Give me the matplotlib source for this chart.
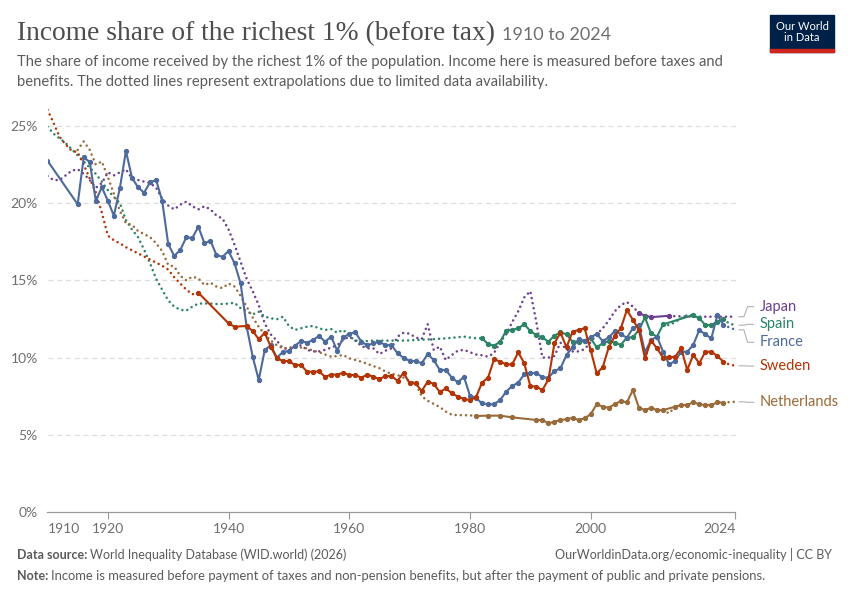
import matplotlib
matplotlib.use("Agg")
import matplotlib.pyplot as plt
from matplotlib.patches import Rectangle

plt.rcParams['font.family'] = ['Lato', 'DejaVu Sans']

# ---- data ----
france_years = [1910] + list(range(1915, 2023))
france_vals = [22.75, 19.93, 22.97, 22.67, 20.16, 21.03, 20.16, 19.19, 21.0, 23.38,
               21.65, 21.03, 20.68, 21.35, 21.5, 20.16, 17.36, 16.58, 16.97, 17.79,
               17.75, 18.48, 17.4, 17.57, 16.64, 16.53, 16.9, 16.1, 14.8, 12.0,
               10.06, 8.55, 10.49, 10.8, 9.99, 10.36, 10.43, 10.77, 11.07, 10.97,
               11.14, 11.4, 11.03, 11.36, 10.45, 11.31, 11.53, 11.64, 11.03, 10.8,
               10.92, 11.03, 10.8, 10.8, 10.28, 9.99, 9.78, 9.78, 9.63, 10.23,
               9.84, 9.2, 9.2, 8.7, 8.4, 8.76, 7.53, 7.38, 7.04, 6.98,
               6.98, 7.25, 7.79, 8.16, 8.38, 8.92, 8.98, 9.02, 8.72, 8.7,
               9.13, 9.31, 10.17, 10.67, 11.18, 11.1, 11.31, 11.53, 11.07, 11.31,
               11.72, 11.51, 11.29, 11.9, 12.08, 10.35, 11.14, 11.36, 10.38, 9.56,
               9.78, 10.38, 10.38, 10.82, 11.79, 11.5, 11.25, 12.76, 12.11]
france_ext_years = [2022, 2023, 2024]
france_ext_vals = [12.11, 11.95, 11.8]

sweden_years = [1935, 1940, 1941] + list(range(1943, 2023))
sweden_vals = [14.2, 12.22, 12.0, 12.05, 11.72, 11.2, 11.6, 10.7, 9.95, 9.78,
               9.78, 9.52, 9.52, 9.09, 9.09, 9.1, 8.76, 8.9, 8.9, 9.02,
               8.87, 8.87, 8.7, 8.9, 8.76, 8.61, 8.8, 8.8, 8.5, 9.02,
               8.33, 8.33, 7.84, 8.44, 8.3, 7.77, 8.0, 7.69, 7.47, 7.33,
               7.25, 7.43, 8.38, 8.7, 9.89, 9.74, 9.56, 9.56, 10.34, 9.63,
               8.16, 8.12, 7.9, 8.59, 10.93, 11.61, 10.67, 11.68, 11.79, 11.9,
               10.49, 8.98, 9.37, 10.67, 11.4, 11.9, 13.08, 12.45, 11.79, 9.95,
               11.1, 10.6, 9.99, 10.02, 10.06, 10.6, 9.2, 10.17, 9.63, 10.38,
               10.38, 10.1, 9.73]
sweden_ext_years = list(range(1910, 1936)) + [2022, 2023, 2024]
sweden_ext_vals = [26.05, 25.2, 24.3, 23.8, 23.4, 23.3, 22.5, 21.6, 20.7, 19.4,
                   17.9, 17.6, 17.4, 17.15, 16.95, 16.75, 16.55, 16.35, 16.15, 15.95,
                   15.7, 15.2, 14.8, 14.4, 14.1, 14.2,
                   9.73, 9.55, 9.47]

spain_years = list(range(1982, 2013)) + list(range(2017, 2023))
spain_vals = [11.25, 10.88, 10.77, 11.03, 11.74, 11.79, 11.9, 12.16, 11.72, 11.46,
              11.31, 11.03, 11.42, 11.64, 11.51, 11.03, 11.03, 11.07, 11.25, 10.67,
              10.93, 11.07, 10.97, 10.82, 11.3, 11.31, 11.8, 12.6, 11.57, 11.36,
              12.15, 12.76, 12.54, 12.11, 12.11, 12.33, 12.48]
spain_ext_years = list(range(1910, 1983)) + list(range(2012, 2018)) + [2022, 2023, 2024]
spain_ext_vals = [24.96, 24.5, 24.2, 23.9, 23.5, 23.1, 22.7, 22.3, 21.9, 21.4,
                  20.85, 20.4, 20.0, 18.9, 18.3, 17.8, 17.0, 16.1, 15.1, 14.4,
                  13.7, 13.3, 13.1, 13.04, 13.3, 13.5, 13.5, 13.5, 13.47, 13.47,
                  13.5, 13.55, 13.2, 13.0, 12.8, 12.97, 12.65, 12.55, 12.48, 12.65,
                  12.05, 11.79, 11.9, 12.0, 12.05, 11.9, 11.79, 11.85, 11.61, 11.8,
                  11.4, 11.1, 11.1, 11.07, 11.1, 11.1, 11.1, 11.1, 11.1, 11.1,
                  11.12, 11.14, 11.16, 11.18, 11.2, 11.22, 11.25, 11.28, 11.32, 11.36,
                  11.3, 11.25, 11.25,
                  12.15, 12.1, 12.3, 12.55, 12.75, 12.76,
                  12.48, 12.2, 12.1]

japan_years = [2008, 2009, 2010, 2013]
japan_vals = [12.87, 12.72, 12.62, 12.71]
japan_ext_years = list(range(1910, 2009)) + list(range(2013, 2025))
japan_ext_vals = [21.76, 21.5, 21.5, 21.8, 22.1, 22.2, 21.9, 21.5, 21.0, 21.3,
                  22.0, 21.8, 22.0, 22.2, 21.6, 21.5, 21.4, 21.3, 21.0, 20.3,
                  19.85, 19.6, 19.9, 20.1, 19.8, 19.6, 19.8, 19.6, 19.2, 19.0,
                  18.3, 17.3, 16.2, 15.1, 14.3, 13.4, 12.2, 11.5, 11.1, 10.6,
                  10.55, 10.7, 10.8, 10.5, 10.4, 10.4, 10.5, 10.65, 10.8, 11.14,
                  11.36, 11.1, 10.75, 10.6, 10.6, 10.23, 10.45, 10.6, 11.36, 11.61,
                  11.55, 11.3, 11.2, 12.16, 10.49, 10.71, 9.84, 10.17, 10.45, 10.5,
                  10.35, 10.2, 10.15, 10.06, 10.3, 11.0, 11.5, 12.3, 13.0, 13.9,
                  14.3, 12.3, 10.0, 10.0, 10.1, 10.97, 10.5, 10.4, 10.4, 10.55,
                  11.0, 11.5, 11.9, 12.4, 13.0, 13.4, 13.6, 13.3, 12.87,
                  12.71, 12.68, 12.67, 12.66, 12.66, 12.65, 12.65, 12.65, 12.65, 12.65,
                  12.65, 12.65]

neth_years = [1981, 1983, 1985, 1987] + list(range(1991, 2013)) + list(range(2014, 2023))
neth_vals = [6.22, 6.24, 6.24, 6.13, 5.96, 5.96, 5.74, 5.85, 5.96, 6.0,
             6.1, 5.96, 6.07, 6.33, 6.98, 6.82, 6.76, 6.98, 7.19, 7.1,
             7.9, 6.75, 6.6, 6.75, 6.6, 6.6, 6.82, 6.93, 6.93, 7.1,
             6.98, 6.93, 6.93, 7.1, 7.08]
neth_ext_years = list(range(1915, 1982)) + [2012, 2013, 2014, 2022, 2023, 2024]
neth_ext_vals = [23.45, 24.0, 23.45, 22.5, 22.7, 21.7, 20.6, 19.5, 18.7, 18.6,
                 18.2, 18.0, 17.8, 17.4, 16.9, 16.0, 15.9, 15.3, 15.0, 15.24,
                 15.13, 14.7, 14.85, 14.6, 14.5, 14.8, 14.6, 14.0, 13.3, 12.6,
                 12.0, 11.5, 11.1, 10.8, 10.6, 10.65, 10.7, 10.65, 10.6, 10.45,
                 10.35, 10.2, 10.06, 10.1, 10.17, 9.95, 9.85, 9.73, 9.6, 9.45,
                 9.31, 9.1, 8.95, 8.87, 8.7, 8.5, 8.33, 7.5, 7.2, 7.0,
                 6.8, 6.5, 6.3, 6.27, 6.27, 6.26, 6.22,
                 6.6, 6.39, 6.82, 7.08, 7.12, 7.14]

series = [
    ("Japan", "#6D3E91", japan_years, japan_vals, japan_ext_years, japan_ext_vals, 13.3),
    ("Spain", "#2C8465", spain_years, spain_vals, spain_ext_years, spain_ext_vals, 12.15),
    ("France", "#4C6A9C", france_years, france_vals, france_ext_years, france_ext_vals, 10.99),
    ("Sweden", "#B13507", sweden_years, sweden_vals, sweden_ext_years, sweden_ext_vals, 9.45),
    ("Netherlands", "#9A6B3A", neth_years, neth_vals, neth_ext_years, neth_ext_vals, 7.1),
]

x_ticks = [1920, 1940, 1960, 1980, 2000, 2024]
y_ticks = [0, 5, 10, 15, 20, 25]

W, H = 850, 600
fig = plt.figure(figsize=(8.5, 6), dpi=100)
ax = fig.add_axes([47.5 / W, 88 / H, 688 / W, 405 / H])
ax.set_xlim(1910, 2024)
ax.set_ylim(0, 405 / 15.44)


def split_runs(years, vals):
    # break dotted series wherever years are not consecutive
    runs, cur = [], [[years[0]], [vals[0]]]
    for y, v in zip(years[1:], vals[1:]):
        if y - cur[0][-1] > 1:
            runs.append(cur)
            cur = [[], []]
        cur[0].append(y)
        cur[1].append(v)
    runs.append(cur)
    return runs


for name, col, yrs, vals, eyrs, evals, lab_y in series:
    for ry, rv in split_runs(eyrs, evals):
        ax.plot(ry, rv, color=col, lw=1.85, ls=(0, (0.01, 2.0)), dash_capstyle='round',
                zorder=2)
    ax.plot(yrs, vals, color=col, lw=1.5, marker='o', ms=2.8, zorder=3)

    # label connectors on the right
    end_v = evals[-1]
    ax.plot([2024.6, 2025.4, 2026.0, 2027.0], [end_v, end_v, lab_y, lab_y],
            color='#bbbbbb', lw=0.9, clip_on=False)
    ax.text(2028.0, lab_y, name, color=col, fontsize=10.5, va='center', ha='left')

for s in ['top', 'right', 'left']:
    ax.spines[s].set_visible(False)
ax.spines['bottom'].set_color('#999999')
ax.spines['bottom'].set_linewidth(0.9)

ax.set_yticks(y_ticks)
ax.set_yticklabels([f"{t}%" for t in y_ticks])
ax.tick_params(axis='y', length=0, pad=7, labelsize=10, labelcolor='#6e6e6e')
for t in y_ticks[1:]:
    ax.axhline(t, color='#dddddd', lw=0.9, ls=(0, (4, 3)), zorder=0)

ax.set_xticks(x_ticks)
ax.set_xticklabels([str(t) for t in x_ticks])
ax.tick_params(axis='x', length=5, color='#999999', pad=3, labelsize=10,
               labelcolor='#6e6e6e')
ax.get_xticklabels()[-1].set_horizontalalignment('right')
ax.text(1910, -0.7, "1910", transform=ax.transData, ha='left', va='top',
        fontsize=10, color='#6e6e6e')

# ---- header ----
r = fig.canvas.get_renderer()
title = fig.text(17 / W, 1 - 40 / H, "Income share of the richest 1% (before tax)",
                 family='Liberation Serif', fontsize=19.8, color='#4d4d4d',
                 va='baseline')
tw = title.get_window_extent(r).width
fig.text((17 + tw + 7) / W, 1 - 40 / H, "1910 to 2024", fontsize=13,
         color='#6e6e6e', va='baseline')
fig.text(17 / W, 1 - 66 / H,
         "The share of income received by the richest 1% of the population. Income here is measured before taxes and",
         fontsize=10.65, color='#5b5b5b', va='baseline')
fig.text(17 / W, 1 - 86 / H,
         "benefits. The dotted lines represent extrapolations due to limited data availability.",
         fontsize=10.65, color='#5b5b5b', va='baseline')

# logo
fig.patches.append(Rectangle((770 / W, 1 - 52 / H), 64 / W, 37 / H,
                             transform=fig.transFigure, color='#002147'))
fig.patches.append(Rectangle((770 / W, 1 - 52 / H), 64 / W, 3 / H,
                             transform=fig.transFigure, color='#CE261E'))
fig.text(802 / W, 1 - 32 / H, "Our World\nin Data", color='white', fontsize=8,
         ha='center', va='center', linespacing=1.1)

# ---- footer ----
t1 = fig.text(17 / W, 1 - 559 / H, "Data source:", fontsize=9, weight='bold',
              color='#5b5b5b', va='baseline')
w1 = t1.get_window_extent(r).width
fig.text((17 + w1 + 3) / W, 1 - 559 / H, "World Inequality Database (WID.world) (2026)",
         fontsize=9, color='#5b5b5b', va='baseline')
fig.text(832 / W, 1 - 559 / H, "OurWorldinData.org/economic-inequality | CC BY",
         fontsize=9, color='#5b5b5b', va='baseline', ha='right')
t2 = fig.text(17 / W, 1 - 580 / H, "Note:", fontsize=9, weight='bold',
              color='#5b5b5b', va='baseline')
w2 = t2.get_window_extent(r).width
fig.text((17 + w2 + 3) / W, 1 - 580 / H,
         "Income is measured before payment of taxes and non-pension benefits, but after the payment of public and private pensions.",
         fontsize=9.4, color='#5b5b5b', va='baseline')

fig.savefig("out.png", dpi=100)
